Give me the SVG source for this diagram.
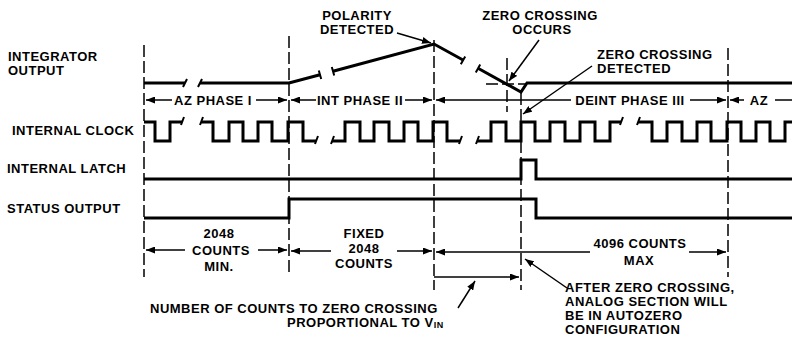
<svg xmlns="http://www.w3.org/2000/svg" width="792" height="344" viewBox="0 0 792 344">
<style>
text{font-family:"Liberation Sans",Arial,sans-serif;font-weight:bold;font-size:13px;letter-spacing:0.5px;fill:#000}
.c{text-anchor:middle}
.sig{fill:none;stroke:#000;stroke-width:3;stroke-linejoin:miter}
.tick{stroke:#000;stroke-width:2;fill:none}
.dash{stroke:#000;stroke-width:1.5;stroke-dasharray:12 4;fill:none}
.dim{stroke:#000;stroke-width:1.5;fill:none}
.s{marker-start:url(#ah)}
.e{marker-end:url(#ah)}
</style>
<defs>
<marker id="ah" markerUnits="userSpaceOnUse" markerWidth="9" markerHeight="7" refX="9" refY="3.5" orient="auto-start-reverse"><path d="M0,0 L9,3.5 L0,7 z" fill="#000"/></marker>
</defs>
<rect width="792" height="344" fill="#fff"/>

<g id="labels">
<text x="8" y="61">INTEGRATOR</text>
<text x="8" y="75">OUTPUT</text>
<text x="12" y="135">INTERNAL CLOCK</text>
<text x="7" y="173">INTERNAL LATCH</text>
<text x="7" y="213">STATUS OUTPUT</text>
</g>

<g id="phase-boundaries">
<path class="dash" d="M144,45 V277 M289,36 V275 M434,40 V290 M507,58 V112 M521,93 V290 M728,48 V277 M486,84 H527"/>
</g>

<g id="integrator-output">
<path class="sig" d="M144,83 H185"/>
<path class="sig" d="M200,83 H289 L320,74.7"/>
<path class="sig" d="M333,71.2 L434,44 L463,60"/>
<path class="sig" d="M478,68.3 L521,92 L527,83 H792"/>
<path class="tick" d="M183,87 L187,79 M198,87 L202,79 M321.2,79 L318.8,70.4 M334.2,75.5 L331.8,66.9 M460.8,64.2 L465.2,56.4 M475.8,72.5 L480.2,64.5"/>
</g>

<g id="internal-clock">
<path class="sig" d="M144,122 H155 V141 H170 V122 H182"/>
<path class="sig" d="M201,122 H213 V141 H229 V122 H243 V141 H258 V122 H272 V141 H288 V122 H303 V141 H316"/>
<path class="sig" d="M332,141 H345 V122 H360 V141 H374 V122 H389 V141 H404 V122 H418 V141 H433 V122 H447 V141 H460"/>
<path class="sig" d="M477,141 H491 V122 H506 V141 H521 V122 H535 V141 H550 V122 H565 V141 H580 V122 H595 V141 H610 V122 H621"/>
<path class="sig" d="M638,122 H652 V141 H667 V122 H682 V141 H697 V122 H711 V141 H727 V122 H741 V141 H756 V122 H770 V141 H785 V122 H792"/>
<path class="tick" d="M181,125 L184,117 M200,125 L203,117 M315,144 L318,136 M331,144 L334,136 M459,144 L462,136 M476,144 L479,136 M620,125 L623,117 M637,125 L640,117"/>
</g>

<g id="internal-latch">
<path class="sig" d="M144,179 H521 V160 H536 V179 H792"/>
</g>

<g id="status-output">
<path class="sig" d="M144,218 H289 V199 H536 V218 H792"/>
</g>

<g id="phase-dimensions">
<path class="dim s" d="M146,100 H172"/>
<text class="c" x="213" y="105">AZ PHASE I</text>
<path class="dim e" d="M256,100 H287"/>
<path class="dim s" d="M291,100 H316"/>
<text class="c" x="360" y="105">INT PHASE II</text>
<path class="dim e" d="M405,100 H432"/>
<path class="dim s" d="M436,100 H571"/>
<text class="c" x="630" y="105">DEINT PHASE III</text>
<path class="dim e" d="M690,100 H726"/>
<path class="dim s" d="M730,100 H744"/>
<text class="c" x="759" y="105">AZ</text>
<path class="dim" d="M775,100 H792"/>
</g>

<g id="count-dimensions">
<text class="c" x="219" y="238">2048</text>
<path class="dim s" d="M146,250 H185"/>
<text class="c" x="221" y="255">COUNTS</text>
<path class="dim e" d="M258,250 H287"/>
<text class="c" x="219" y="271">MIN.</text>

<path class="dim s" d="M291,251 H331"/>
<text class="c" x="364" y="238">FIXED</text>
<text class="c" x="364" y="253">2048</text>
<text class="c" x="364" y="268">COUNTS</text>
<path class="dim e" d="M397,251 H432"/>

<path class="dim s" d="M436,252 H590"/>
<text class="c" x="640" y="248">4096 COUNTS</text>
<text class="c" x="639" y="265">MAX</text>
<path class="dim e" d="M689,252 H726"/>

<path class="dim e" d="M434,277 H519"/>
</g>

<g id="connectors">
<path class="dim e" d="M397,33 L431,43"/>
<path class="dim e" d="M539,40 L509,81"/>
<path class="dim e" d="M592,66 L523,114"/>
<path class="dim e" d="M458,308 L475,281"/>
<path class="dim e" d="M567,288 L525,259"/>
</g>

<g id="annotations">
<text class="c" x="357" y="20">POLARITY</text>
<text class="c" x="357" y="34">DETECTED</text>
<text class="c" x="540" y="20">ZERO CROSSING</text>
<text class="c" x="542" y="34">OCCURS</text>
<text x="597" y="59">ZERO CROSSING</text>
<text x="597" y="73">DETECTED</text>
<text x="150" y="313" letter-spacing="1">NUMBER OF COUNTS TO ZERO CROSSING</text>
<text x="287" y="327" font-size="12.5" letter-spacing="0">PROPORTIONAL TO V<tspan font-size="9" dy="1">IN</tspan></text>
<text x="565" y="292">AFTER ZERO CROSSING,</text>
<text x="565" y="306">ANALOG SECTION WILL</text>
<text x="565" y="320">BE IN AUTOZERO</text>
<text x="565" y="334">CONFIGURATION</text>
</g>
</svg>
